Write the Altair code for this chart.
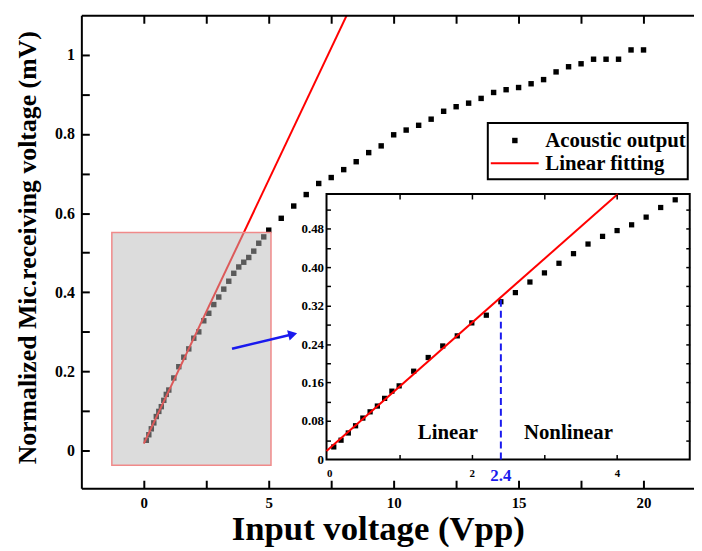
import altair as alt
import pandas as pd

# ---------------- data ----------------
input_voltage = [0.1, 0.2, 0.3, 0.4, 0.5, 0.6, 0.7, 0.8, 0.9, 1.0,
                 1.2, 1.4, 1.6, 1.8, 2.0, 2.2, 2.4, 2.6, 2.8, 3.0,
                 3.2, 3.4, 3.6, 3.8, 4.0, 4.2, 4.4, 4.6, 4.8, 5.0,
                 5.5, 6.0, 6.5, 7.0, 7.5, 8.0, 8.5, 9.0, 9.5, 10.0,
                 10.5, 11.0, 11.5, 12.0, 12.5, 13.0, 13.5, 14.0, 14.5, 15.0,
                 15.5, 16.0, 16.5, 17.0, 17.5, 18.0, 18.5, 19.0, 19.5, 20.0]
mic_voltage = [0.026, 0.040, 0.055, 0.070, 0.086, 0.099, 0.111, 0.127, 0.142, 0.153,
               0.1835, 0.212, 0.236, 0.257, 0.284, 0.300, 0.328, 0.347, 0.369, 0.388,
               0.408, 0.428, 0.448, 0.464, 0.476, 0.488, 0.504, 0.524, 0.540, 0.557,
               0.587, 0.618, 0.647, 0.675, 0.690, 0.710, 0.730, 0.753, 0.770, 0.798,
               0.810, 0.822, 0.8375, 0.8575, 0.869, 0.878, 0.890, 0.905, 0.912, 0.9175,
               0.927, 0.9375, 0.957, 0.970, 0.9775, 0.989, 0.989, 0.989, 1.0125, 1.0125]
fit_slope = 0.1333
fit_intercept = 0.0175
threshold_x = [2.4]
threshold_label = ["2.4"]
region_labels = ["Linear", "Nonlinear"]
region_label_x = [1.67, 3.33]
region_label_y = [0.054, 0.054]
zoom_box_x = [-1.28, 5.09]
zoom_box_y = [-0.037, 0.551]
arrow_x = [3.53, 5.96]
arrow_y = [0.2575, 0.294]
legend_labels = ["Acoustic output", "Linear fitting"]

main_x_domain = [-2.5, 22.02]
main_y_domain = [-0.095, 1.1]
inset_x_domain = [0, 5]
inset_y_domain = [0, 0.552]

main_x_labels = [0, 5, 10, 15, 20]
main_x_ticks = [0, 2.5, 5, 7.5, 10, 12.5, 15, 17.5, 20]
main_y_labels = [0, 0.2, 0.4, 0.6, 0.8, 1.0]
main_y_ticks = [0, 0.1, 0.2, 0.3, 0.4, 0.5, 0.6, 0.7, 0.8, 0.9, 1.0]
inset_x_labels = [0, 2, 4]
inset_x_ticks = [1, 2, 3, 4]
inset_y_labels = [0, 0.08, 0.16, 0.24, 0.32, 0.40, 0.48]
inset_y_ticks = [0.04, 0.08, 0.12, 0.16, 0.20, 0.24, 0.28, 0.32, 0.36, 0.40, 0.44, 0.48, 0.52]

# ---------------- layout ----------------
W, H = 618, 477
IX0, IX1 = 247.3, 613.7    # inset x pixel range inside plot
IYB, IYT = 448.0, 180.3    # inset y pixel range (bottom, top)
FONT = "Liberation Serif"
BLUE = "#1a1aee"

MX = alt.Scale(domain=main_x_domain, nice=False, zero=False)
MY = alt.Scale(domain=main_y_domain, nice=False, zero=False)
IX = alt.Scale(domain=inset_x_domain, range=[IX0, IX1], nice=False, zero=False)
IY = alt.Scale(domain=inset_y_domain, range=[IYB, IYT], nice=False, zero=False)

main_df = pd.DataFrame({"x": input_voltage, "y": mic_voltage})
inset_df = main_df[(main_df.x <= inset_x_domain[1]) & (main_df.y <= inset_y_domain[1])]

x_end_main = (main_y_domain[1] - fit_intercept) / fit_slope
fit_main = pd.DataFrame({"x": [0, x_end_main]})
fit_main["y"] = fit_slope * fit_main.x + fit_intercept
x_end_inset = min(inset_x_domain[1], (inset_y_domain[1] - fit_intercept) / fit_slope)
fit_inset = pd.DataFrame({"x": [0, x_end_inset]})
fit_inset["y"] = fit_slope * fit_inset.x + fit_intercept

box_df = pd.DataFrame({"x0": [zoom_box_x[0]], "x1": [zoom_box_x[1]],
                       "y0": [zoom_box_y[0]], "y1": [zoom_box_y[1]]})
arrow_df = pd.DataFrame({"x0": [arrow_x[0]], "x1": [arrow_x[1]],
                         "y0": [arrow_y[0]], "y1": [arrow_y[1]]})
frame_df = pd.DataFrame({"x0": [inset_x_domain[0]], "x1": [inset_x_domain[1]],
                         "y0": [inset_y_domain[0]], "y1": [inset_y_domain[1]]})
thr_df = pd.DataFrame({"x": threshold_x, "label": threshold_label})
thr_df["y0"] = 0.0
thr_df["y1"] = fit_slope * thr_df.x + fit_intercept
thr_df["ylab"] = -0.035
region_df = pd.DataFrame({"x": region_label_x, "y": region_label_y, "t": region_labels})
one = pd.DataFrame({"a": [0]})

# ---------------- main layers ----------------
pts = alt.Chart(main_df).mark_square(size=30, color="black", opacity=1).encode(
    x=alt.X("x:Q", scale=MX, axis=alt.Axis(
        orient="bottom", values=main_x_labels, format="d", ticks=False, tickSize=0,
        labelPadding=7, labelFontSize=15, domain=True, domainWidth=2, grid=False,
        title="Input voltage (Vpp)", titleFontSize=35, titleX=299, titleY=52,
        titleBaseline="alphabetic", zindex=1)),
    y=alt.Y("y:Q", scale=MY, axis=alt.Axis(
        orient="left", values=main_y_labels, format="~g", ticks=False, tickSize=0,
        labelPadding=7, labelFontSize=16, domain=True, domainWidth=2, grid=False,
        title="Normalized Mic.receiving voltage (mV)", titleFontSize=26,
        titleX=-46, titleY=234, titleBaseline="alphabetic", zindex=1)),
)

fit_line = alt.Chart(fit_main).mark_line(color="red", strokeWidth=2, clip=True).encode(
    x=alt.X("x:Q", scale=MX, axis=alt.Axis(
        orient="top", offset=-H, values=main_x_ticks, labels=False, domain=False,
        tickSize=8, tickWidth=2, grid=False, title=None, zindex=1)),
    y=alt.Y("y:Q", scale=MY, axis=alt.Axis(
        orient="right", offset=-W, values=main_y_ticks, labels=False, domain=False,
        tickSize=8, tickWidth=2, grid=False, title=None, zindex=1)),
)

box = alt.Chart(box_df).mark_rect(fill="#b7b7b7", fillOpacity=0.49,
                                  stroke="#f08a8a", strokeWidth=1.5).encode(
    x=alt.X("x0:Q", scale=MX, axis=alt.Axis(
        orient="bottom", offset=-H, values=main_x_ticks, labels=False, domain=True,
        domainWidth=2, tickSize=8, tickWidth=2, grid=False, title=None, zindex=1)),
    x2="x1:Q",
    y=alt.Y("y0:Q", scale=MY, axis=None),
    y2="y1:Q",
)

arrow_line = alt.Chart(arrow_df).mark_rule(color=BLUE, strokeWidth=2.5).encode(
    x=alt.X("x0:Q", scale=MX, axis=None), x2="x1:Q",
    y=alt.Y("y0:Q", scale=MY, axis=None), y2="y1:Q",
)
arrow_head = alt.Chart(arrow_df).mark_point(shape="triangle-right", size=110, filled=True,
                                            color=BLUE, opacity=1, angle=346).encode(
    x=alt.X("x1:Q", scale=MX, axis=None),
    y=alt.Y("y1:Q", scale=MY, axis=None),
)

# ---------------- inset layers ----------------
frame = alt.Chart(frame_df).mark_rect(fill="white", stroke="black", strokeWidth=2).encode(
    x=alt.X("x0:Q", scale=IX, axis=alt.Axis(
        orient="top", offset=-IYB, values=inset_x_ticks, labels=False, domain=False,
        tickSize=5, tickWidth=1.5, grid=False, title=None, zindex=1)),
    x2="x1:Q",
    y=alt.Y("y0:Q", scale=IY, axis=alt.Axis(
        orient="right", offset=IX0 - W, values=inset_y_ticks, labels=False, domain=False,
        tickSize=4, tickWidth=1.5, grid=False, title=None, zindex=1)),
    y2="y1:Q",
)

inset_pts = alt.Chart(inset_df).mark_square(size=28, color="black", opacity=1).encode(
    x=alt.X("x:Q", scale=IX, axis=alt.Axis(
        orient="bottom", offset=IYB - H, values=inset_x_labels, format="d", ticks=False,
        tickSize=0, labelPadding=8, labelFontSize=11, domain=False, grid=False,
        title=None, zindex=1)),
    y=alt.Y("y:Q", scale=IY, axis=alt.Axis(
        orient="left", offset=-IX0, values=inset_y_labels,
        labelExpr="datum.value == 0 ? '0' : format(datum.value, '.2f')", ticks=False,
        tickSize=0, labelPadding=3, labelFontSize=13, domain=False, grid=False,
        title=None, zindex=1)),
)

inset_fit = alt.Chart(fit_inset).mark_line(color="red", strokeWidth=2).encode(
    x=alt.X("x:Q", scale=IX, axis=alt.Axis(
        orient="bottom", offset=IYT - H, values=inset_x_ticks, labels=False, domain=False,
        tickSize=5, tickWidth=1.5, grid=False, title=None, zindex=1)),
    y=alt.Y("y:Q", scale=IY, axis=alt.Axis(
        orient="left", offset=-IX1, values=inset_y_ticks, labels=False, domain=False,
        tickSize=4, tickWidth=1.5, grid=False, title=None, zindex=1)),
)

thr_line = alt.Chart(thr_df).mark_rule(color=BLUE, strokeWidth=2, strokeDash=[7, 4]).encode(
    x=alt.X("x:Q", scale=IX, axis=None),
    y=alt.Y("y0:Q", scale=IY, axis=None), y2="y1:Q",
)
thr_text = alt.Chart(thr_df).mark_text(font=FONT, fontWeight="bold", fontSize=17,
                                       color=BLUE, baseline="middle").encode(
    x=alt.X("x:Q", scale=IX, axis=None),
    y=alt.Y("ylab:Q", scale=IY, axis=None),
    text="label:N",
)
region_text = alt.Chart(region_df).mark_text(font=FONT, fontWeight="bold", fontSize=21,
                                             color="black", baseline="middle").encode(
    x=alt.X("x:Q", scale=IX, axis=None),
    y=alt.Y("y:Q", scale=IY, axis=None),
    text="t:N",
)

# ---------------- legend ----------------
leg_box = alt.Chart(one).mark_rect(fill="white", stroke="black", strokeWidth=2).encode(
    x=alt.value(410), x2=alt.value(611.7), y=alt.value(108.7), y2=alt.value(165.3))
leg_sq = alt.Chart(one).mark_square(size=30, color="black", opacity=1).encode(
    x=alt.value(437.3), y=alt.value(126.3))
leg_line = alt.Chart(one).mark_rule(color="red", strokeWidth=2).encode(
    x=alt.value(413), x2=alt.value(461.3), y=alt.value(149.3))
leg_t1 = alt.Chart(one).mark_text(text=legend_labels[0], font=FONT, fontWeight="bold",
                                  fontSize=21, align="left", baseline="middle",
                                  color="black").encode(x=alt.value(468), y=alt.value(127))
leg_t2 = alt.Chart(one).mark_text(text=legend_labels[1], font=FONT, fontWeight="bold",
                                  fontSize=21, align="left", baseline="middle",
                                  color="black").encode(x=alt.value(468), y=alt.value(150))

chart = alt.layer(
    pts, fit_line, box, arrow_line, arrow_head,
    frame, inset_pts, inset_fit, thr_line, thr_text, region_text,
    leg_box, leg_sq, leg_line, leg_t1, leg_t2,
).resolve_scale(x="independent", y="independent").properties(
    width=W, height=H,
    autosize=alt.AutoSizeParams(type="none"),
    padding={"left": 74, "top": 5, "right": 0, "bottom": 60},
).configure_view(stroke=None).configure_axis(
    labelFont=FONT, titleFont=FONT, labelFontWeight="bold", titleFontWeight="bold",
    labelColor="black", titleColor="black", tickColor="black", domainColor="black",
)

chart.save("out.html", embed_options={"renderer": "svg", "actions": False})
